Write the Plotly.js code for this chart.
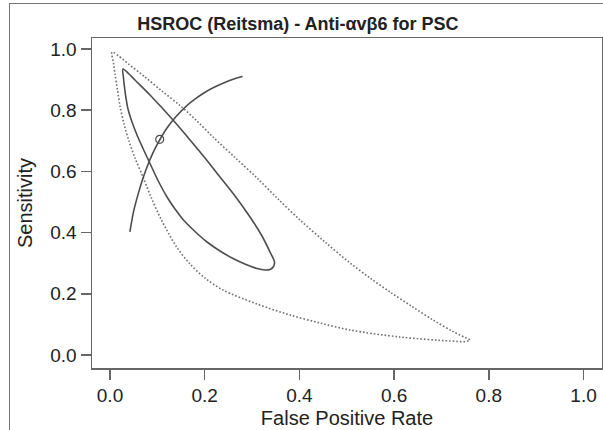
<!DOCTYPE html>
<html>
<head>
<meta charset="utf-8">
<script src="https://cdn.plot.ly/plotly-3.0.1.min.js"></script>
<style>
  html, body { margin: 0; padding: 0; background: #fff; }
  #wrap { position: relative; width: 603px; height: 430px; overflow: hidden; }
  #chart { position: absolute; left: 0; top: 0; width: 603px; height: 430px; }
  #frame { position: absolute; left: 9px; top: 3px; width: 600px; height: 440px;
           border-left: 1.5px solid #777; border-top: 1.5px solid #777; pointer-events: none; }
</style>
</head>
<body>
<div id="wrap">
  <div id="chart"></div>
  <div id="frame"></div>
</div>
<script>
// ---- Data ----
const chartTitle = "HSROC (Reitsma) - Anti-\u03b1v\u03b26 for PSC";
const xTitle = "False Positive Rate";
const yTitle = "Sensitivity";

const tickVals = [0, 0.2, 0.4, 0.6, 0.8, 1.0];
const tickText = ["0.0", "0.2", "0.4", "0.6", "0.8", "1.0"];

// SROC curve
const srocFpr  = [0.042, 0.05, 0.06, 0.07, 0.08, 0.09, 0.10, 0.12, 0.14, 0.16, 0.18, 0.20, 0.22, 0.24, 0.26, 0.28];
const srocSens = [0.402, 0.470, 0.529, 0.579, 0.622, 0.658, 0.689, 0.741, 0.780, 0.812, 0.837, 0.858, 0.875, 0.889, 0.901, 0.910];

// 95% confidence region (solid)
const confFpr  = [0.0275, 0.0401, 0.0528, 0.0845, 0.1331, 0.1690, 0.2006, 0.2323, 0.2640, 0.2957, 0.3210, 0.3379, 0.3474,
                  0.3453, 0.3379, 0.3273, 0.3105, 0.2872, 0.2598, 0.2323, 0.2049, 0.1795, 0.1542, 0.1373, 0.1204, 0.1014,
                  0.0845, 0.0697, 0.0570, 0.0465, 0.0380, 0.0338, 0.0306, 0.0285, 0.0275];
const confSens = [0.9346, 0.9183, 0.8987, 0.8497, 0.7680, 0.7026, 0.6438, 0.5817, 0.5196, 0.4510, 0.3889, 0.3366, 0.3039,
                  0.2892, 0.2794, 0.2778, 0.2827, 0.2958, 0.3154, 0.3399, 0.3693, 0.4036, 0.4428, 0.4771, 0.5163, 0.5703,
                  0.6258, 0.6748, 0.7190, 0.7614, 0.8039, 0.8399, 0.8758, 0.9052, 0.9346];

// 95% prediction region (dotted)
const predFpr  = [0.0042, 0.0211, 0.0380, 0.0739, 0.1098, 0.1478, 0.1837, 0.2175, 0.2640, 0.3105, 0.3548, 0.4013, 0.4541,
                  0.5069, 0.5491, 0.5913, 0.6378, 0.6822, 0.7223, 0.7497, 0.7603,
                  0.7497, 0.7181, 0.6125, 0.5069, 0.4435, 0.3801, 0.3105, 0.2386, 0.2006, 0.1690, 0.1394, 0.1077,
                  0.0866, 0.0697, 0.0528, 0.0401, 0.0296, 0.0211, 0.0158, 0.0106, 0.0074, 0.0042];
const predSens = [0.9902, 0.9739, 0.9526, 0.9085, 0.8627, 0.8154, 0.7647, 0.7124, 0.6454, 0.5784, 0.5098, 0.4412, 0.3693,
                  0.3007, 0.2516, 0.2059, 0.1585, 0.1144, 0.0784, 0.0572, 0.0490,
                  0.0441, 0.0458, 0.0588, 0.0817, 0.1046, 0.1307, 0.1667, 0.2124, 0.2516, 0.2974, 0.3562, 0.4444,
                  0.5163, 0.5817, 0.6438, 0.6993, 0.7549, 0.8137, 0.8660, 0.9183, 0.9542, 0.9902];

// Summary point
const summaryFpr  = [0.105];
const summarySens = [0.705];

// ---- Traces ----
const lineCol = "#4d4d4d";
const traces = [
  {
    x: predFpr, y: predSens, type: "scatter", mode: "lines",
    line: { color: "#6e6e6e", width: 1.6, dash: "1.6px,2px", shape: "spline", smoothing: 0.9 },
    hoverinfo: "skip", showlegend: false
  },
  {
    x: confFpr, y: confSens, type: "scatter", mode: "lines",
    line: { color: lineCol, width: 1.6, shape: "spline", smoothing: 0.9 },
    hoverinfo: "skip", showlegend: false
  },
  {
    x: srocFpr, y: srocSens, type: "scatter", mode: "lines",
    line: { color: lineCol, width: 1.6, shape: "spline", smoothing: 0.9 },
    hoverinfo: "skip", showlegend: false
  },
  {
    x: summaryFpr, y: summarySens, type: "scatter", mode: "markers",
    marker: { symbol: "circle-open", size: 8, color: lineCol, line: { width: 1.2, color: lineCol } },
    hoverinfo: "skip", showlegend: false
  }
];

const axisCommon = {
  showgrid: false, zeroline: false,
  showline: true, mirror: true, linecolor: "#666", linewidth: 1.5,
  ticks: "outside", ticklen: 10, tickwidth: 1.5, tickcolor: "#666",
  tickvals: tickVals, ticktext: tickText,
  tickfont: { family: "Liberation Sans, Arial, sans-serif", size: 19, color: "#222" }
};

const layout = {
  width: 603, height: 430,
  margin: { l: 92, r: 1, t: 38, b: 62, pad: 0 },
  paper_bgcolor: "#fff", plot_bgcolor: "#fff",
  title: {
    text: "<b>" + chartTitle + "</b>",
    font: { family: "Liberation Sans, Arial, sans-serif", size: 18, color: "#222" },
    xref: "container", x: 0.494, xanchor: "center",
    yref: "container", y: 0.945, yanchor: "middle"
  },
  xaxis: Object.assign({}, axisCommon, {
    range: [-0.038, 1.039],
    title: { text: xTitle, font: { family: "Liberation Sans, Arial, sans-serif", size: 20, color: "#222" }, standoff: 5 }
  }),
  yaxis: Object.assign({}, axisCommon, {
    range: [-0.0425, 1.036],
    title: { text: yTitle, font: { family: "Liberation Sans, Arial, sans-serif", size: 20, color: "#222" }, standoff: 12 }
  }),
  showlegend: false
};

Plotly.newPlot("chart", traces, layout, { displayModeBar: false, staticPlot: true });
</script>
</body>
</html>
